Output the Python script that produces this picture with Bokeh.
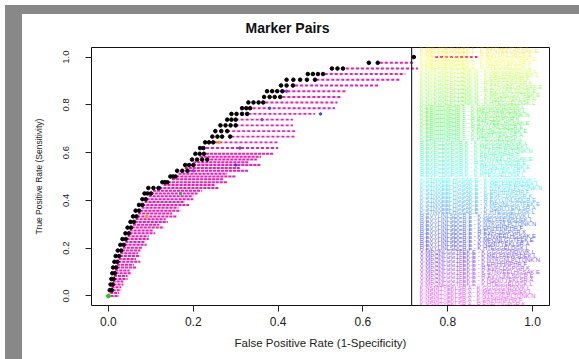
from bokeh.plotting import figure
from bokeh.models import Range1d, Span, Div, ColumnDataSource, FixedTicker
from bokeh.layouts import column
from bokeh.embed import file_html
from bokeh.resources import INLINE
from bokeh.core.properties import value
import colorsys

# ---------------- data ----------------
markers = ["K.GGGGGNDVVK.L", "K.MELFAEWSDEK.L", "K.NYKGNLPLTQNK.N", "K.ERIHHNPHR.F",
           "R.EVFCDGPGR.K", "K.STNVEELHGSAK.E", "R.EVYLINLSDCR.E", "X.MPQNLGGTFEK.E",
           "K.NSNITYEKLSR.A", "K.HTEGGELDGK.L"]

x_ticks = [0.0, 0.2, 0.4, 0.6, 0.8, 1.0]
y_ticks = [0.0, 0.2, 0.4, 0.6, 0.8, 1.0]

# envelope (best) ROC points, black
black_tpr = [1.0,
             0.976, 0.976,
             0.952, 0.952, 0.952,
             0.929, 0.929, 0.929, 0.929,
             0.905, 0.905, 0.905, 0.905, 0.905,
             0.881, 0.881, 0.881,
             0.857, 0.857, 0.857, 0.857,
             0.833, 0.833, 0.833, 0.833,
             0.810, 0.810, 0.810, 0.810,
             0.786, 0.786, 0.786,
             0.762, 0.762, 0.762, 0.762,
             0.738, 0.738, 0.738,
             0.714, 0.714, 0.714, 0.714,
             0.690, 0.690, 0.690,
             0.667, 0.667, 0.667, 0.667,
             0.643, 0.643, 0.643,
             0.619, 0.619,
             0.595, 0.595, 0.595,
             0.571, 0.571, 0.571, 0.571,
             0.548, 0.548, 0.548,
             0.524, 0.524, 0.524,
             0.500, 0.500, 0.500,
             0.476, 0.476, 0.476,
             0.452, 0.452, 0.452,
             0.429, 0.429, 0.429,
             0.405, 0.405,
             0.381, 0.381,
             0.357, 0.357,
             0.333, 0.333,
             0.310, 0.310,
             0.286, 0.286,
             0.262, 0.262,
             0.238, 0.238,
             0.214, 0.214,
             0.190, 0.190,
             0.167, 0.167,
             0.143, 0.143,
             0.119, 0.119,
             0.095, 0.095,
             0.071, 0.071,
             0.048, 0.048,
             0.024, 0.024]
black_fpr = [0.72,
             0.614, 0.635,
             0.527, 0.540, 0.553,
             0.470, 0.482, 0.494, 0.506,
             0.420, 0.436, 0.452, 0.468, 0.487,
             0.407, 0.420, 0.435,
             0.374, 0.386, 0.398, 0.410,
             0.367, 0.380, 0.392, 0.405,
             0.330, 0.342, 0.354, 0.365,
             0.315, 0.325, 0.334,
             0.290, 0.302, 0.315, 0.327,
             0.280, 0.290, 0.300,
             0.264, 0.276, 0.288, 0.300,
             0.252, 0.266, 0.280,
             0.245, 0.257, 0.268, 0.287,
             0.228, 0.237, 0.247,
             0.216, 0.224,
             0.205, 0.215, 0.225,
             0.197, 0.209, 0.221, 0.233,
             0.181, 0.190, 0.200,
             0.162, 0.174, 0.186,
             0.146, 0.152, 0.158,
             0.127, 0.133, 0.139,
             0.094, 0.106, 0.118,
             0.085, 0.092, 0.100,
             0.080, 0.088,
             0.072, 0.080,
             0.064, 0.072,
             0.058, 0.066,
             0.052, 0.060,
             0.045, 0.053,
             0.040, 0.048,
             0.033, 0.041,
             0.028, 0.036,
             0.022, 0.030,
             0.017, 0.025,
             0.014, 0.021,
             0.011, 0.018,
             0.009, 0.015,
             0.007, 0.012,
             0.005, 0.010,
             0.003, 0.008]

# other pairs' ROC points, magenta rows: level, from, to (upper part, sparse)
magU_tpr   = [1.0, 0.976, 0.952, 0.929, 0.905, 0.881, 0.857, 0.833, 0.810, 0.786, 0.762,
              0.738, 0.714, 0.690, 0.667, 0.643, 0.619]
magU_start = [0.77, 0.64, 0.56, 0.51, 0.49, 0.44, 0.41, 0.41, 0.37, 0.34, 0.33,
              0.30, 0.30, 0.28, 0.29, 0.25, 0.23]
magU_end   = [0.87, 0.72, 0.73, 0.70, 0.69, 0.64, 0.56, 0.55, 0.54, 0.534, 0.487,
              0.435, 0.435, 0.44, 0.44, 0.40, 0.40]
# lower part, dense
magL_tpr   = [0.595, 0.583, 0.571, 0.560, 0.548, 0.536, 0.524, 0.512, 0.500, 0.488,
              0.476, 0.464, 0.452, 0.440, 0.429, 0.417, 0.405, 0.393, 0.381, 0.369,
              0.357, 0.345, 0.333, 0.321, 0.310, 0.298, 0.286, 0.274, 0.262, 0.250,
              0.238, 0.226, 0.214, 0.202, 0.190, 0.179, 0.167, 0.155, 0.143, 0.131,
              0.119, 0.107, 0.095, 0.083, 0.071, 0.060, 0.048, 0.036, 0.024, 0.012, 0.0]
magL_start = [0.23, 0.215, 0.24, 0.20, 0.20, 0.18, 0.19, 0.165, 0.16, 0.15,
              0.14, 0.13, 0.12, 0.105, 0.10, 0.095, 0.09, 0.085, 0.08, 0.078,
              0.075, 0.07, 0.068, 0.064, 0.062, 0.058, 0.055, 0.05, 0.05, 0.045,
              0.043, 0.04, 0.038, 0.034, 0.032, 0.028, 0.027, 0.024, 0.023, 0.02,
              0.02, 0.016, 0.017, 0.013, 0.014, 0.01, 0.012, 0.007, 0.01, 0.004, 0.005]
magL_end   = [0.39, 0.36, 0.35, 0.33, 0.36, 0.31, 0.33, 0.28, 0.30, 0.27,
              0.28, 0.25, 0.26, 0.22, 0.21, 0.20, 0.20, 0.18, 0.19, 0.165,
              0.17, 0.15, 0.16, 0.135, 0.14, 0.12, 0.13, 0.105, 0.11, 0.095,
              0.095, 0.085, 0.09, 0.08, 0.075, 0.07, 0.075, 0.065, 0.075, 0.06,
              0.065, 0.05, 0.055, 0.045, 0.045, 0.035, 0.035, 0.03, 0.03, 0.025, 0.025]
# a few points of other colours scattered in the band
other_fpr = [0.452, 0.50, 0.362, 0.31, 0.30, 0.122, 0.20, 0.26, 0.17, 0.42, 0.38, 0.09]
other_tpr = [0.905, 0.762, 0.738, 0.619, 0.548, 0.452, 0.524, 0.643, 0.429, 0.857, 0.786, 0.333]
other_col = ["#3344ff", "#3344ff", "#8833ff", "#8833ff", "#3344ff", "#3344ff",
             "#8833ff", "#ff9900", "#22aa55", "#8833ff", "#3344ff", "#ff9900"]

# ---------------- figure ----------------
p = figure(width=579, height=359, output_backend="svg", toolbar_location=None,
           x_range=Range1d(-0.04, 1.04), y_range=Range1d(-0.04, 1.04),
           min_border_left=91, min_border_right=30, min_border_top=47, min_border_bottom=54)
p.grid.visible = False
p.outline_line_color = "#111111"
p.outline_line_width = 1
p.background_fill_color = "white"
p.border_fill_color = "white"

p.title.text = "Marker Pairs"
p.title.text_font = "Liberation Sans"
p.title.text_font_size = "14px"
p.title.text_font_style = "bold"
p.title.text_color = "#111111"
p.title.align = "left"
p.title.offset = 154
p.title.standoff = 23

for ax in (p.xaxis[0], p.yaxis[0]):
    ax.axis_line_color = None
    ax.major_tick_in = 0
    ax.major_tick_out = 6
    ax.major_tick_line_color = "#222222"
    ax.minor_tick_line_color = None
    ax.major_label_text_color = "#222222"
    ax.axis_label_text_color = "#222222"
    ax.axis_label_text_font_style = "normal"

p.xaxis.ticker = FixedTicker(ticks=x_ticks)
p.yaxis.ticker = FixedTicker(ticks=y_ticks)
p.xaxis.major_label_overrides = {t: f"{t:.1f}" for t in x_ticks}
p.yaxis.major_label_overrides = {t: f"{t:.1f}" for t in y_ticks}
p.xaxis.axis_label = "False Positive Rate (1-Specificity)"
p.yaxis.axis_label = "True Positive Rate (Sensitivity)"
p.xaxis.major_label_text_font = "Liberation Sans"
p.xaxis.major_label_text_font_size = "12px"
p.xaxis.major_label_standoff = 5
p.xaxis.axis_label_text_font = "Liberation Sans"
p.xaxis.axis_label_text_font_size = "11.5px"
p.xaxis.axis_label_standoff = 8
p.yaxis.major_label_orientation = "vertical"
p.yaxis.major_label_text_font = "Liberation Sans"
p.yaxis.major_label_text_font_size = "9.5px"
p.yaxis.major_label_standoff = 16
p.yaxis.axis_label_text_font = "Liberation Sans"
p.yaxis.axis_label_text_font_size = "8.5px"
p.yaxis.axis_label_standoff = 17

# magenta rows of the other ROC curves
p.segment(x0=magU_start, y0=magU_tpr, x1=magU_end, y1=magU_tpr,
          line_color="#ff14b4", line_width=1.9, line_dash="3 2")
p.segment(x0=magL_start, y0=magL_tpr, x1=magL_end, y1=magL_tpr,
          line_color="#ff14b4", line_width=2.0, line_dash="3 1")
p.scatter(other_fpr, other_tpr, size=2.5, color=other_col)
# best envelope
p.scatter(black_fpr, black_tpr, size=3.6, color="black")
p.scatter([0.0], [0.0], size=4, color="#22cc22")

# legend labels (ordered pairs), rainbow colours; only rows inside the plot region show
labels = []
for i, a in enumerate(markers):
    for j, b in enumerate(markers):
        if i != j:
            labels.append(f"{a} - {b}")
n = len(labels)
xs, ys, ts, cs = [], [], [], []
for k in range(n):
    py = -1 + 4.0 * k
    if 46 <= py <= 304:
        r, g, b = colorsys.hsv_to_rgb(k / n, 1.0, 1.0)
        cs.append("#%02x%02x%02x" % (int(r * 255), int(g * 255), int(b * 255)))
        ys.append((295.0 - py) / 238.0)
        xs.append(0.734)
        ts.append(labels[k])
src = ColumnDataSource(dict(x=xs, y=ys, t=ts, c=cs))
p.text(x="x", y="y", text="t", text_color="c", source=src, text_alpha=0.75,
       text_font=value("Liberation Sans"), text_font_size="5.9px", text_baseline="middle")

p.add_layout(Span(location=0.715, dimension="height", line_color="black", line_width=1))

gray_left = Div(text="", styles={"position": "fixed", "left": "0px", "top": "0px",
                                 "width": "17px", "height": "359px", "background-color": "#888888"})
gray_top = Div(text="", styles={"position": "fixed", "left": "0px", "top": "0px",
                                "width": "579px", "height": "9px", "background-color": "#888888"})
layout = column(p, gray_left, gray_top)

open("out.html", "w").write(file_html(layout, INLINE))
